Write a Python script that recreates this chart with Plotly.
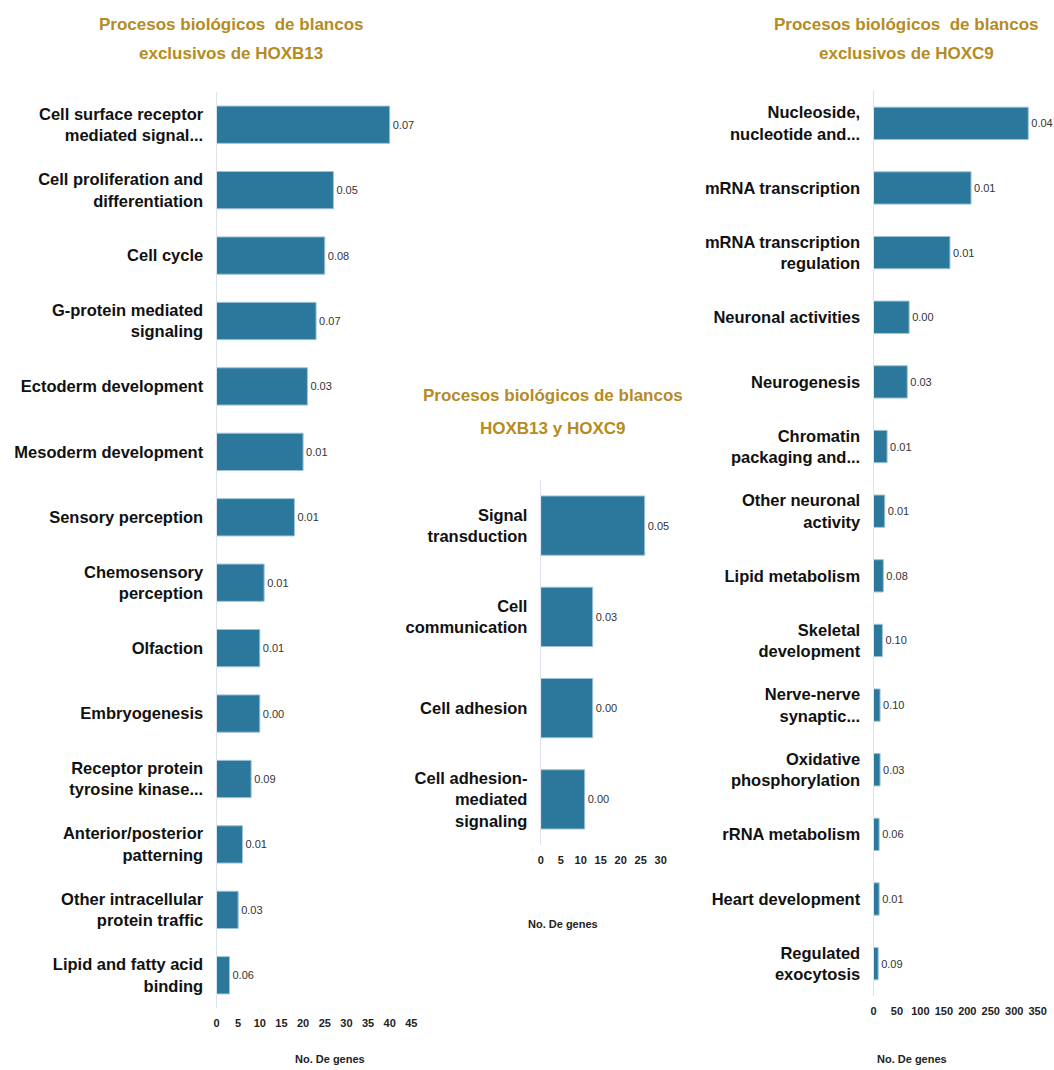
import plotly.graph_objects as go

# the page body margin is removed (post_script) so figure pixels == screen pixels
OFF = 0
W, H = 1054, 1070

# ---------------- data ----------------
cats_b13 = ["Cell surface receptor<br>mediated signal...", "Cell proliferation and<br>differentiation",
            "Cell cycle", "G-protein mediated<br>signaling", "Ectoderm development",
            "Mesoderm development", "Sensory perception", "Chemosensory<br>perception",
            "Olfaction", "Embryogenesis", "Receptor protein<br>tyrosine kinase...",
            "Anterior/posterior<br>patterning", "Other intracellular<br>protein traffic",
            "Lipid and fatty acid<br>binding"]
vals_b13 = [40, 27, 25, 23, 21, 20, 18, 11, 10, 10, 8, 6, 5, 3]
pv_b13 = ["0.07", "0.05", "0.08", "0.07", "0.03", "0.01", "0.01", "0.01", "0.01", "0.00",
          "0.09", "0.01", "0.03", "0.06"]

cats_both = ["Signal<br>transduction", "Cell<br>communication", "Cell adhesion",
             "Cell adhesion-<br>mediated<br>signaling"]
vals_both = [26, 13, 13, 11]
pv_both = ["0.05", "0.03", "0.00", "0.00"]

cats_c9 = ["Nucleoside,<br>nucleotide and...", "mRNA transcription", "mRNA transcription<br>regulation",
           "Neuronal activities", "Neurogenesis", "Chromatin<br>packaging and...",
           "Other neuronal<br>activity", "Lipid metabolism", "Skeletal<br>development",
           "Nerve-nerve<br>synaptic...", "Oxidative<br>phosphorylation", "rRNA metabolism",
           "Heart development", "Regulated<br>exocytosis"]
vals_c9 = [330, 208, 163, 76, 72, 29, 24, 21, 19, 14, 14, 12, 12, 10]
pv_c9 = ["0.04", "0.01", "0.01", "0.00", "0.03", "0.01", "0.01", "0.08", "0.10", "0.10",
         "0.03", "0.06", "0.01", "0.09"]

titles = [["Procesos biológicos  de blancos", "exclusivos de HOXB13"],
          ["Procesos biológicos de blancos", "HOXB13 y HOXC9"],
          ["Procesos biológicos  de blancos", "exclusivos de HOXC9"]]
xtitle = "No. De genes"

# ---------------- style ----------------
FONT = "Liberation Sans, Arial, sans-serif"
GOLD = "#B58B22"
BAR = "#2C789D"
EDGE = "#9EC3D8"

def px_x(p):
    return (p - OFF) / W

def px_y(p):
    return 1 - (p - OFF) / H

fig = go.Figure()

panels = [
    # cats, vals, labels, x0px, px_per_unit, xmax, ytop, ybot, ticks, bargap
    (cats_b13, vals_b13, pv_b13, 216.5, 4.33, 48, 92, 1008, list(range(0, 46, 5)), 0.43),
    (cats_both, vals_both, pv_both, 540.7, 4.0, 32, 480, 845, list(range(0, 31, 5)), 0.35),
    (cats_c9, vals_c9, pv_c9, 873.5, 0.469, 370, 91, 996, list(range(0, 351, 50)), 0.5),
]

for i, (cats, vals, pv, x0, ppu, xmax, yt, yb, tv, gap) in enumerate(panels, start=1):
    xa = "x" if i == 1 else f"x{i}"
    ya = "y" if i == 1 else f"y{i}"
    fig.add_trace(go.Bar(
        y=cats, x=vals, orientation="h", text=pv, textposition="outside",
        textfont=dict(family=FONT, size=11, color="#333333"),
        marker=dict(color=BAR, line=dict(color=EDGE, width=1)),
        xaxis=xa, yaxis=ya, cliponaxis=False, showlegend=False,
        width=1 - gap,
    ))
    xkey = "xaxis" if i == 1 else f"xaxis{i}"
    ykey = "yaxis" if i == 1 else f"yaxis{i}"
    x1 = x0 + xmax * ppu
    fig.layout[xkey] = dict(
        domain=[px_x(x0), px_x(x1)], range=[0, xmax],
        anchor=ya, tickmode="array", tickvals=tv, tickangle=0,
        showgrid=False, zeroline=False, showline=False, automargin=False,
        tickfont=dict(family=FONT, size=11, color="#222222", weight="bold"),
        ticks="", ticklabelstandoff=7, fixedrange=True,
    )
    fig.layout[ykey] = dict(
        domain=[px_y(yb), px_y(yt)], anchor=xa, autorange="reversed",
        type="category", showgrid=False, zeroline=False, automargin=False,
        showline=True, linecolor="#DCE3EA", linewidth=1,
        tickfont=dict(family=FONT, size=16.5, color="#111111", weight="bold"),
        ticks="", ticklabelstandoff=9, fixedrange=True,
    )

annos = []
title_pos = [(231, 24, 53), (553, 395, 428), (906, 24, 53)]
for lines, (cx, y1, y2) in zip(titles, title_pos):
    for line, cy in zip(lines, (y1, y2)):
        annos.append(dict(text=f"<b>{line}</b>", x=px_x(cx), y=px_y(cy), xref="paper", yref="paper",
                          showarrow=False, xanchor="center", yanchor="middle",
                          font=dict(family=FONT, size=17, color=GOLD)))
for cx, cy in [(330, 1059), (563, 924), (912, 1059)]:
    annos.append(dict(text=f"<b>{xtitle}</b>", x=px_x(cx), y=px_y(cy), xref="paper", yref="paper",
                      showarrow=False, xanchor="center", yanchor="middle",
                      font=dict(family=FONT, size=11, color="#222222")))

fig.update_layout(
    width=W, height=H, margin=dict(l=0, r=0, t=0, b=0),
    paper_bgcolor="white", plot_bgcolor="white",
    annotations=annos, hovermode=False,
)

fig.write_html(
    "out.html",
    config={"displayModeBar": False, "staticPlot": True},
    post_script="document.body.style.margin='0';document.body.style.overflow='hidden';",
)
